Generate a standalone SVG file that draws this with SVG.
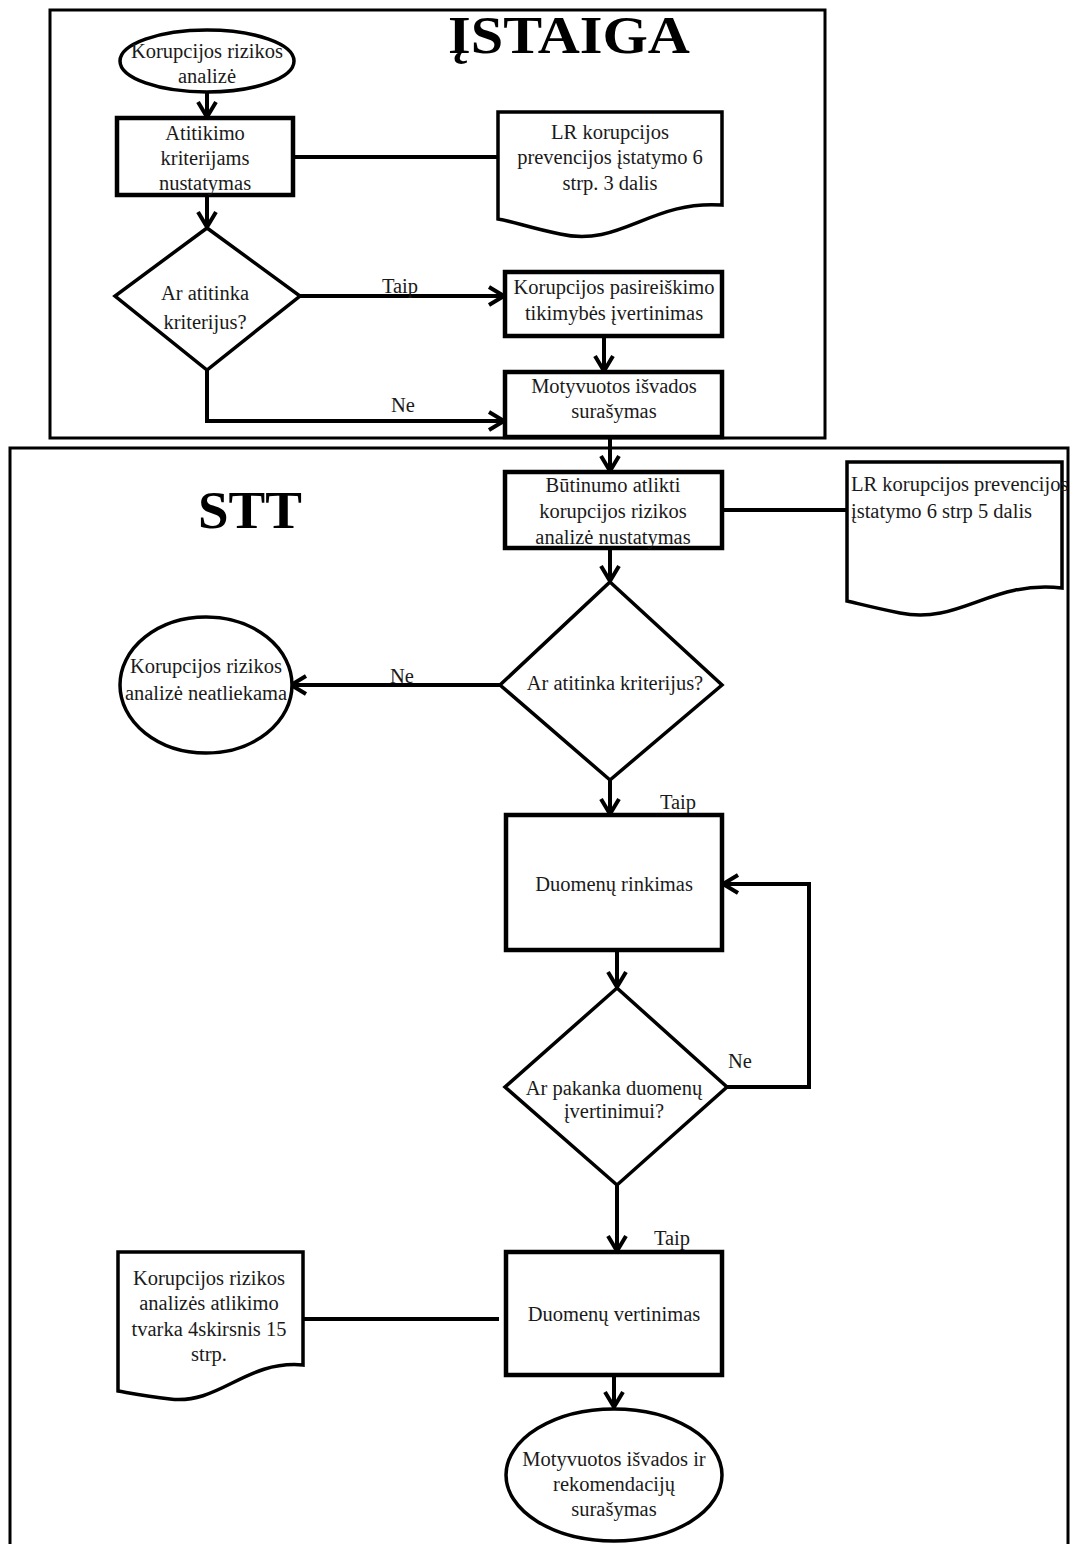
<svg xmlns="http://www.w3.org/2000/svg" width="1072" height="1544" viewBox="0 0 1072 1544">
<style>
.frame{fill:none;stroke:#000;stroke-width:3}
.box{fill:#fff;stroke:#000;stroke-width:4.5}
.shape{fill:#fff;stroke:#000;stroke-width:3.5}
.conn{fill:none;stroke:#000;stroke-width:4}
.t{font-family:"Liberation Serif","Times New Roman",serif;font-size:20.5px;fill:#1a1a1a;text-anchor:middle}
.tl{font-family:"Liberation Serif","Times New Roman",serif;font-size:20.5px;fill:#1a1a1a}
.title{font-family:"Liberation Serif","Times New Roman",serif;font-size:52px;font-weight:bold;fill:#000}
</style>
<defs>
<marker id="arr" viewBox="0 0 20 22" refX="18" refY="11" markerWidth="20" markerHeight="22" markerUnits="userSpaceOnUse" orient="auto">
<path d="M2,2 L17,11 L2,20" fill="none" stroke="#000" stroke-width="4"/>
</marker>
</defs>
<rect width="1072" height="1544" fill="#fff"/>
<g id="frames">
<rect class="frame" x="50" y="10" width="775" height="428"/>
<rect class="frame" x="10" y="448" width="1058" height="1110"/>
<text class="title" x="448" y="53" textLength="242" lengthAdjust="spacingAndGlyphs">ĮSTAIGA</text>
<text class="title" x="198" y="528" textLength="104" lengthAdjust="spacingAndGlyphs">STT</text>
</g>
<g id="connectors">
<line class="conn" x1="207" y1="92" x2="207" y2="118" marker-end="url(#arr)"/>
<line class="conn" x1="207" y1="195" x2="207" y2="228" marker-end="url(#arr)"/>
<line class="conn" x1="293" y1="157" x2="498" y2="157"/>
<line class="conn" x1="300" y1="296" x2="505" y2="296" marker-end="url(#arr)"/>
<text class="t" x="400" y="293">Taip</text>
<line class="conn" x1="604" y1="336" x2="604" y2="372" marker-end="url(#arr)"/>
<path class="conn" d="M207,370 V421 H505" marker-end="url(#arr)"/>
<text class="t" x="403" y="412">Ne</text>
<line class="conn" x1="610" y1="437" x2="610" y2="472" marker-end="url(#arr)"/>
<line class="conn" x1="722" y1="510" x2="847" y2="510"/>
<line class="conn" x1="610" y1="548" x2="610" y2="582" marker-end="url(#arr)"/>
<line class="conn" x1="500" y1="685" x2="290" y2="685" marker-end="url(#arr)"/>
<text class="t" x="402" y="683">Ne</text>
<line class="conn" x1="610" y1="780" x2="610" y2="815" marker-end="url(#arr)"/>
<text class="t" x="678" y="809">Taip</text>
<line class="conn" x1="617" y1="950" x2="617" y2="988" marker-end="url(#arr)"/>
<path class="conn" d="M727,1087 H809 V884 H722" marker-end="url(#arr)"/>
<text class="t" x="740" y="1068">Ne</text>
<line class="conn" x1="617" y1="1185" x2="617" y2="1252" marker-end="url(#arr)"/>
<text class="t" x="672" y="1245">Taip</text>
<line class="conn" x1="302" y1="1319" x2="499" y2="1319"/>
<line class="conn" x1="614" y1="1375" x2="614" y2="1408" marker-end="url(#arr)"/>
</g>
<g id="start">
<ellipse class="shape" cx="207" cy="61" rx="87" ry="31"/>
<text class="t" x="207" y="58">Korupcijos rizikos</text>
<text class="t" x="207" y="83">analizė</text>
</g>
<g id="atitikimo">
<rect class="box" x="117" y="118" width="176" height="77"/>
<text class="t" x="205" y="140">Atitikimo</text>
<text class="t" x="205" y="165">kriterijams</text>
<text class="t" x="205" y="190">nustatymas</text>
</g>
<g id="doc1">
<path class="shape" d="M498,112 H722 V205 C650,200 620,248 560,234 C530,228 515,222 498,219 Z"/>
<text class="t" x="610" y="139">LR korupcijos</text>
<text class="t" x="610" y="164">prevencijos įstatymo 6</text>
<text class="t" x="610" y="190">strp. 3 dalis</text>
</g>
<g id="dec1">
<path class="shape" d="M207,228 L300,296 L207,370 L115,296 Z"/>
<text class="t" x="205" y="300">Ar atitinka</text>
<text class="t" x="205" y="329">kriterijus?</text>
</g>
<g id="tikimybe">
<rect class="box" x="505" y="272" width="217" height="64"/>
<text class="t" x="614" y="294">Korupcijos pasireiškimo</text>
<text class="t" x="614" y="320">tikimybės įvertinimas</text>
</g>
<g id="isvados1">
<rect class="box" x="505" y="372" width="217" height="65"/>
<text class="t" x="614" y="393">Motyvuotos išvados</text>
<text class="t" x="614" y="418">surašymas</text>
</g>
<g id="butinumo">
<rect class="box" x="505" y="472" width="217" height="76"/>
<text class="t" x="613" y="492">Būtinumo atlikti</text>
<text class="t" x="613" y="518">korupcijos rizikos</text>
<text class="t" x="613" y="544">analizė nustatymas</text>
</g>
<g id="doc2">
<path class="shape" d="M847,462 H1062 V588 C990,580 960,625 900,613 C875,608 860,604 847,601 Z"/>
<text class="tl" x="851" y="491">LR korupcijos prevencijos</text>
<text class="tl" x="851" y="518">įstatymo 6 strp 5 dalis</text>
</g>
<g id="dec2">
<path class="shape" d="M610,582 L722,685 L610,780 L500,685 Z"/>
<text class="t" x="615" y="690">Ar atitinka kriterijus?</text>
</g>
<g id="neatliekama">
<ellipse class="shape" cx="206" cy="685" rx="86" ry="68"/>
<text class="t" x="206" y="673">Korupcijos rizikos</text>
<text class="t" x="206" y="700">analizė neatliekama</text>
</g>
<g id="rinkimas">
<rect class="box" x="506" y="815" width="216" height="135"/>
<text class="t" x="614" y="891">Duomenų rinkimas</text>
</g>
<g id="dec3">
<path class="shape" d="M617,988 L727,1087 L617,1185 L505,1087 Z"/>
<text class="t" x="614" y="1095">Ar pakanka duomenų</text>
<text class="t" x="614" y="1118">įvertinimui?</text>
</g>
<g id="vertinimas">
<rect class="box" x="506" y="1252" width="216" height="123"/>
<text class="t" x="614" y="1321">Duomenų vertinimas</text>
</g>
<g id="doc3">
<path class="shape" d="M118,1252 H303 V1365 C245,1360 220,1405 170,1399 C145,1396 130,1393 118,1391 Z"/>
<text class="t" x="209" y="1285">Korupcijos rizikos</text>
<text class="t" x="209" y="1310">analizės atlikimo</text>
<text class="t" x="209" y="1336">tvarka 4skirsnis 15</text>
<text class="t" x="209" y="1361">strp.</text>
</g>
<g id="end">
<ellipse class="shape" cx="614" cy="1475" rx="108" ry="66"/>
<text class="t" x="614" y="1466">Motyvuotos išvados ir</text>
<text class="t" x="614" y="1491">rekomendacijų</text>
<text class="t" x="614" y="1516">surašymas</text>
</g>
</svg>
